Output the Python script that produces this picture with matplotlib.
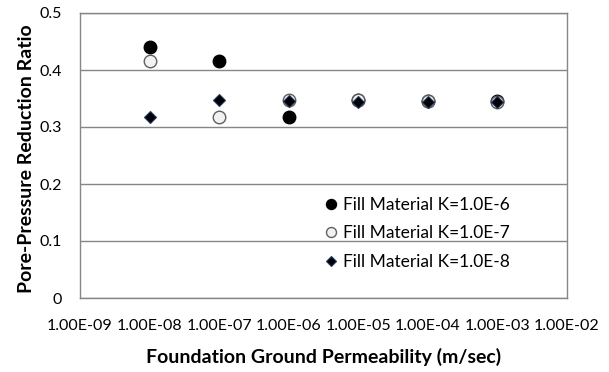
import matplotlib
matplotlib.use("Agg")
import matplotlib.pyplot as plt

plt.rcParams["font.family"] = ["Lato", "DejaVu Sans"]

perm = [1e-8, 1e-7, 1e-6, 1e-5, 1e-4, 1e-3]
k6 = [0.440, 0.416, 0.317, 0.347, 0.346, 0.345]
k7 = [0.416, 0.317, 0.348, 0.347, 0.345, 0.343]
k8 = [0.317, 0.347, 0.345, 0.344, 0.343, 0.343]
xticks = [1e-9, 1e-8, 1e-7, 1e-6, 1e-5, 1e-4, 1e-3, 1e-2]
xlabels = ["1.00E-09", "1.00E-08", "1.00E-07", "1.00E-06",
           "1.00E-05", "1.00E-04", "1.00E-03", "1.00E-02"]
yticks = [0, 0.1, 0.2, 0.3, 0.4, 0.5]
ylabels = ["0", "0.1", "0.2", "0.3", "0.4", "0.5"]

fig = plt.figure(figsize=(6.09, 3.72), dpi=100)
ax = fig.add_axes([80 / 609, 1 - 298 / 372, 487 / 609, 285 / 372])

ax.plot(perm, k6, "o", ms=9, color="black", mec="black", ls="none",
        label="Fill Material K=1.0E-6", zorder=3)
ax.plot(perm, k7, "o", ms=9, color="#f2f2f2", mec="#606060", mew=1.0, ls="none",
        label="Fill Material K=1.0E-7", zorder=4)
ax.plot(perm, k8, "D", ms=6, color="black", mec="#1f3864", mew=0.8, ls="none",
        label="Fill Material K=1.0E-8", zorder=5)

ax.set_xscale("log")
ax.set_xlim(1e-9, 1e-2)
ax.set_ylim(0, 0.5)
ax.set_xticks(xticks)
ax.set_xticklabels(xlabels)
ax.minorticks_off()
ax.set_yticks(yticks)
ax.set_yticklabels(ylabels)
ax.tick_params(length=0, labelsize=11.5, colors="black")
ax.tick_params(axis="x", pad=15)
ax.tick_params(axis="y", pad=13)
ax.grid(axis="y", color="#868686", lw=1.0)
ax.set_axisbelow(True)
for s in ax.spines.values():
    s.set_color("#868686")
    s.set_linewidth(1.0)

ax.set_xlabel("Foundation Ground Permeability (m/sec)", fontsize=14, fontweight="bold", labelpad=11)
ax.set_ylabel("Pore-Pressure Reduction Ratio", fontsize=14, fontweight="bold")
ax.yaxis.set_label_coords(-0.093, 0.49)

leg = ax.legend(loc="upper left", bbox_to_anchor=(0.497, 0.355), frameon=False, fontsize=12.5,
                handletextpad=0.2, labelspacing=0.72, borderpad=0, borderaxespad=0,
                handlelength=1.0, markerscale=0.8)

fig.savefig("out.png", dpi=100)
